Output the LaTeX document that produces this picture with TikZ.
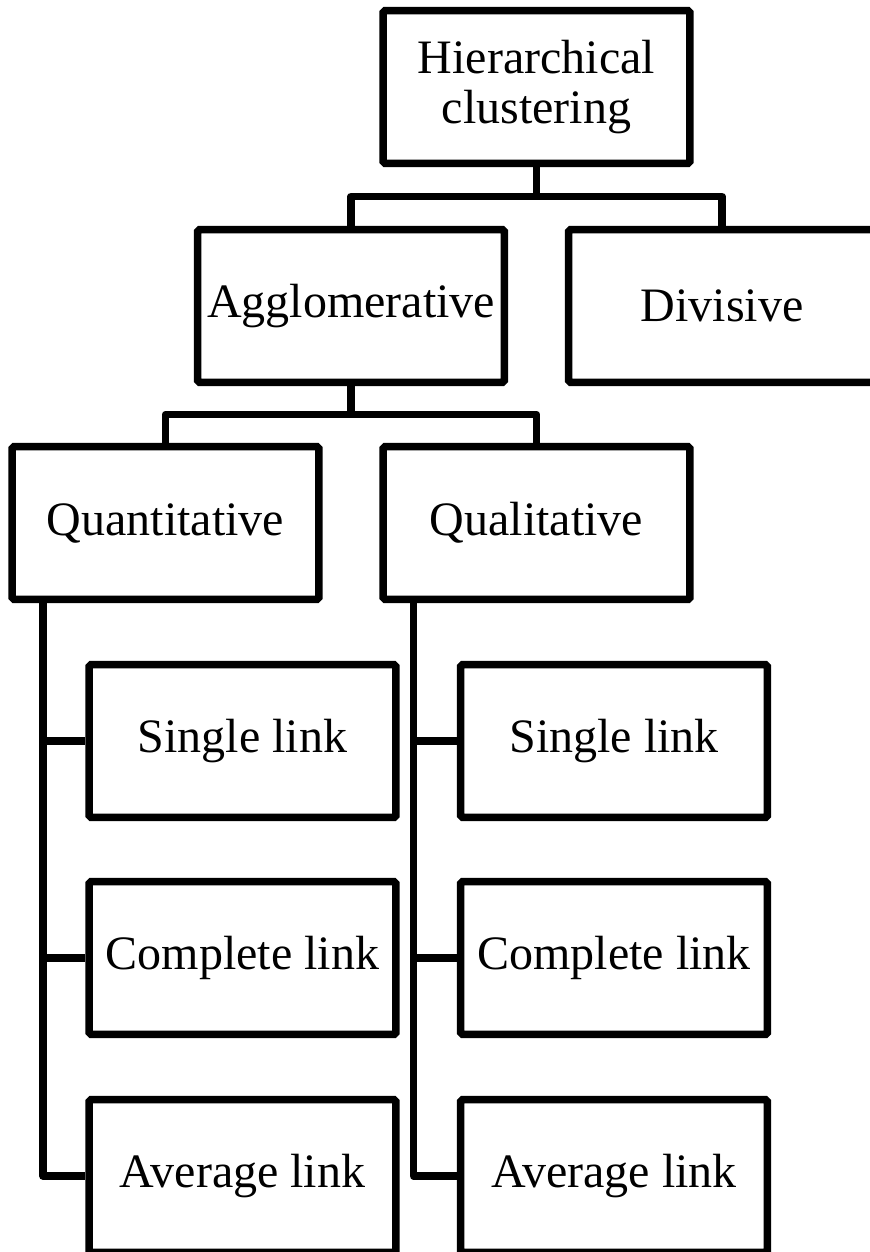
\documentclass[tikz,border=0pt]{standalone}
\usepackage{fontspec}
\setmainfont{Liberation Serif}
\begin{document}
\begin{tikzpicture}[x=0.75pt,y=-0.75pt,
  box/.style={draw=black, line width=5.625pt, rounded corners=1.2pt, fill=white,
    minimum width=229.9pt, minimum height=114.4pt, inner sep=0pt, align=center,
    font=\fontsize{36}{38}\selectfont},
  link/.style={draw=black, line width=5.625pt, line join=round}]
  % page area
  \fill[white] (0,0) rectangle (870,1252);
  \useasboundingbox (0,0) rectangle (870,1252);

  % boxes
  \node[box] (top)  at (536.5,87)  {Hierarchical\\clustering};
  \node[box] (agg)  at (351,306)   {Agglomerative};
  \node[box] (div)  at (722,306)   {Divisive};
  \node[box] (quan) at (165.5,523) {Quantitative};
  \node[box] (qual) at (536.5,523) {Qualitative};
  \node[box] (ls)   at (242.5,741) {Single link};
  \node[box] (lc)   at (242.5,958) {Complete link};
  \node[box] (la)   at (242.5,1176){Average link};
  \node[box] (rs)   at (614,741)   {Single link};
  \node[box] (rc)   at (614,958)   {Complete link};
  \node[box] (ra)   at (614,1176)  {Average link};

  % junction points
  \coordinate (j1) at (536.5,196.5);
  \coordinate (j2) at (351,414.5);
  \coordinate (qa) at (43,600);
  \coordinate (qb) at (413.5,600);

  % tree connectors
  \draw[link] (top.south) -- (j1);
  \draw[link] (agg.north) |- (j1) -| (div.north);
  \draw[link] (agg.south) -- (j2);
  \draw[link] (quan.north) |- (j2) -| (qual.north);

  % side rails to the linkage boxes
  \draw[link] (qa) |- (la.west);
  \draw[link] (qa |- ls.west) -- (ls.west);
  \draw[link] (qa |- lc.west) -- (lc.west);

  \draw[link] (qb) |- (ra.west);
  \draw[link] (qb |- rs.west) -- (rs.west);
  \draw[link] (qb |- rc.west) -- (rc.west);
\end{tikzpicture}
\end{document}
